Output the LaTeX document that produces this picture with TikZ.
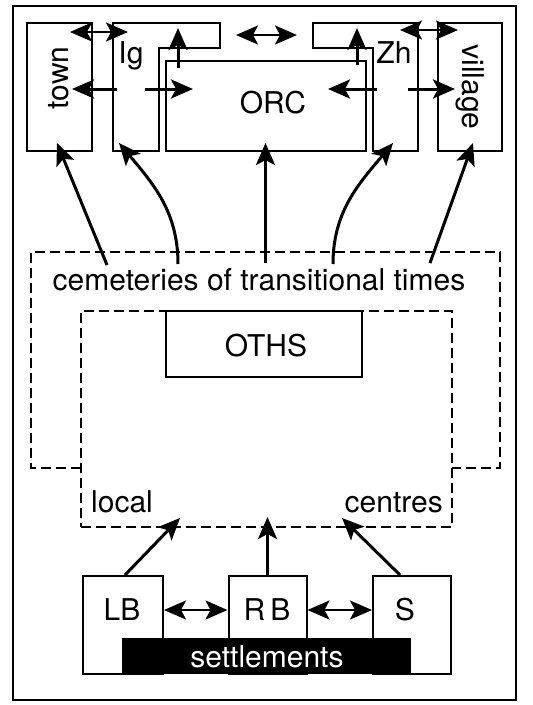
\documentclass[tikz,border=0pt]{standalone}
\usepackage{fontspec}
\setmainfont{TeX Gyre Heros}
\usetikzlibrary{arrows.meta,calc}

\begin{document}
\begin{tikzpicture}[x=1pt,y=-1pt,
    box/.style={draw,line width=2pt,fill=white,inner sep=0pt},
    lbl/.style={font=\fontsize{30}{36}\selectfont,inner sep=0pt,anchor=base},
    tip/.tip={Stealth[length=22pt,width=19pt,inset=5pt]},
    arr/.style={line width=3pt,-tip},
    dbl/.style={line width=2.6pt,tip-tip},
    zone/.style={line width=1.6pt,dash pattern=on 10pt off 5pt}]
  \useasboundingbox (0,0) rectangle (533,705);
  \draw[line width=2.2pt] (13,6) rectangle (516,700);

  % top row of boxes
  \node[box,minimum width=65pt,minimum height=128pt] (town) at (59.5,87) {};
  \node[box,minimum width=64pt,minimum height=128pt] (village) at (470,87) {};
  \draw[box] (113,23) -- (220,23) -- (220,48) -- (159,48) -- (159,151) -- (113,151) -- cycle;
  \draw[box] (313,23) -- (418,23) -- (418,151) -- (373,151) -- (373,48) -- (313,48) -- cycle;
  \node[box,minimum width=200pt,minimum height=90pt] (orc) at (266,106) {};

  \node[lbl,rotate=90] (townlbl) at (68,78) {town};
  \node[lbl,rotate=-90] (villagelbl) at (462,87) {village};
  \node[lbl] (iglbl) at (131,63) {Ig};
  \node[lbl] (zhlbl) at (394,63) {Zh};
  \node[lbl] (orclbl) at (273,113) {ORC};

  % links inside the top row
  \coordinate (tg1) at (70,32);  \coordinate (tg2) at (128,32);
  \coordinate (iz1) at (236,35); \coordinate (iz2) at (297,35);
  \coordinate (zv1) at (400,30); \coordinate (zv2) at (458,30);
  \draw[dbl] (tg1) -- (tg2);
  \draw[dbl] (iz1) -- (iz2);
  \draw[dbl] (zv1) -- (zv2);
  \coordinate (igmid) at (117,89); \coordinate (towntip) at (72,89);
  \coordinate (igout) at (145,89); \coordinate (orcl) at (193,89);
  \coordinate (zhmid) at (377,89); \coordinate (orcr) at (328,89);
  \coordinate (zhout) at (408,89); \coordinate (villtip) at (455,89);
  \draw[arr] (igmid) -- (towntip);
  \draw[arr] (igout) -- (orcl);
  \draw[arr] (zhmid) -- (orcr);
  \draw[arr] (zhout) -- (villtip);
  \coordinate (igup1) at (178,68); \coordinate (igup2) at (178,28);
  \coordinate (zhup1) at (357,65); \coordinate (zhup2) at (357,28);
  \draw[arr] (igup1) -- (igup2);
  \draw[arr] (zhup1) -- (zhup2);

  % cemeteries and centres
  \draw[zone] (81,468) -- (31,468) -- (31,252) -- (500,252) -- (500,468) -- (452,468);
  \node[draw,zone,minimum width=371pt,minimum height=216pt] (centres) at (266.5,419) {};
  \node[box,minimum width=196pt,minimum height=66pt] (oths) at (264,344) {};
  \node[lbl] (othslbl) at (266,356) {OTHS};
  \node[lbl] (cem) at (259,290) {cemeteries of transitional times};
  \node[lbl,anchor=base west] (locallbl) at (91,512) {local};
  \node[lbl,anchor=base east] (centreslbl) at (443,512) {centres};

  \coordinate (c1) at (107,265); \coordinate (c2) at (178,264); \coordinate (c3) at (265.5,263);
  \coordinate (c4) at (333,264); \coordinate (c5) at (430,263);
  \coordinate (igtip) at (119,143); \coordinate (zhtip) at (393,143);
  \draw[arr] (c1) -- (57,143) coordinate (towntop);
  \draw[arr] (c2) to[out=90,in=-50] (igtip);
  \draw[arr] (c3) -- (265.5,143) coordinate (orctop);
  \draw[arr] (c4) to[out=90,in=230] (zhtip);
  \draw[arr] (c5) -- (473,143) coordinate (villtop);

  % settlements
  \node[box,minimum width=80pt,minimum height=98pt] (lb) at (123,625) {};
  \node[box,minimum width=78pt,minimum height=98pt] (rb) at (267.5,625) {};
  \node[box,minimum width=78pt,minimum height=98pt] (s) at (412,625) {};
  \node[fill=black,minimum width=289pt,minimum height=36pt,inner sep=0pt] (settl) at (266.5,656) {};
  \node[lbl,text=white] (settllbl) at (267,667) {settlements};
  \node[lbl] (lblbl) at (122,620) {LB};
  \node[lbl] (rblbl) at (267,620) {R\,B};
  \node[lbl] (slbl) at (405,620) {S};

  \draw[dbl] ([yshift=15pt]lb.east) -- ([yshift=15pt]rb.west);
  \draw[dbl] ([yshift=15pt]rb.east) -- ([yshift=15pt]s.west);
  \draw[arr] ([xshift=2pt]lb.north) -- (180,518) coordinate (lbtip);
  \draw[arr] (rb.north) -- (267.5,517) coordinate (rbtip);
  \draw[arr] ([xshift=-12pt]s.north) -- (342,518) coordinate (stip);
\end{tikzpicture}
\end{document}
